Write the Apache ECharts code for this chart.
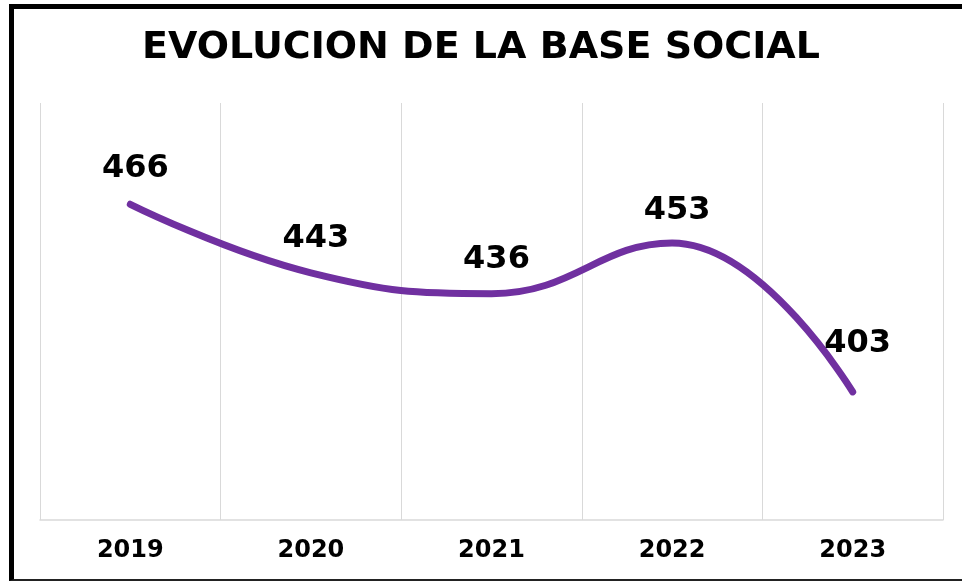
<!DOCTYPE html>
<html>
<head>
<meta charset="utf-8">
<script src="https://cdn.jsdelivr.net/npm/echarts@6/dist/echarts.min.js"></script>
<style>
html,body{margin:0;padding:0;background:#fff;}
#chart{position:absolute;left:0;top:0;width:962px;height:582px;}
#frame{position:absolute;left:9px;top:4px;width:953px;height:577px;box-sizing:border-box;border-top:5px solid #000;border-left:5px solid #000;border-bottom:2px solid #222;pointer-events:none;}
</style>
</head>
<body>
<div id="chart"></div>
<div id="frame"></div>
<script>
const titleText = 'EVOLUCION DE LA BASE SOCIAL';
const years = ['2019', '2020', '2021', '2022', '2023'];
const members = [466, 443, 436, 453, 403];

const labelDistances = [19, 18, 17, 16, 32];
const chart = echarts.init(document.getElementById('chart'));
const font = 'Verdana, "DejaVu Sans", sans-serif';
chart.setOption({
  backgroundColor: '#fff',
  animation: false,
  title: {
    text: titleText,
    left: 'center',
    top: 24,
    textStyle: {fontFamily: font, fontWeight: 'bold', fontSize: 38, color: '#000'}
  },
  grid: {left: 40, right: 19, top: 103, bottom: 62},
  xAxis: {
    type: 'category',
    data: years,
    boundaryGap: true,
    axisLine: {show: true, lineStyle: {color: '#d9d9d9', width: 1.5}},
    axisTick: {show: false},
    splitLine: {show: true, lineStyle: {color: '#d9d9d9', width: 1}},
    axisLabel: {fontFamily: font, fontWeight: 'bold', fontSize: 24, color: '#000', margin: 19}
  },
  yAxis: {
    type: 'value',
    min: 360,
    max: 500,
    show: false,
    splitLine: {show: false}
  },
  series: [{
    type: 'line',
    data: members.map((v, i) => ({value: v, label: {distance: labelDistances[i]}})),
    smooth: 0.45,
    symbol: 'circle',
    symbolSize: 1,
    showSymbol: true,
    itemStyle: {color: 'rgba(0,0,0,0)'},
    lineStyle: {color: '#7030A0', width: 7, cap: 'round'},
    label: {
      show: true,
      position: 'top',
      offset: [5, 0],
      fontFamily: font,
      fontWeight: 'bold',
      fontSize: 32,
      color: '#000'
    }
  }]
});
</script>
</body>
</html>
